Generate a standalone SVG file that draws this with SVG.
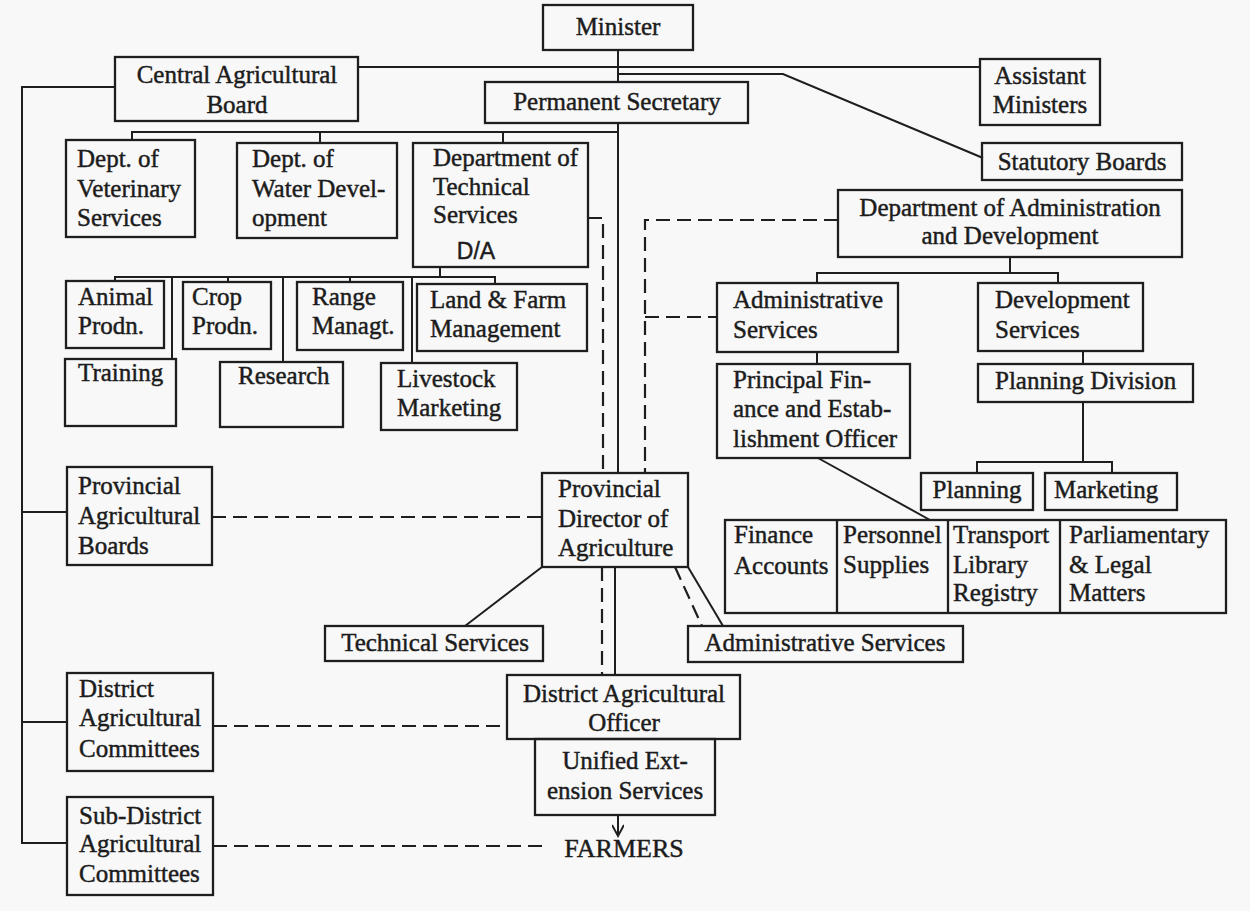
<svg xmlns="http://www.w3.org/2000/svg" width="1250" height="911" viewBox="0 0 1250 911">
<defs>
<style>
.bx{fill:none;stroke:#1e1e1e;stroke-width:2.3}
.ln{fill:none;stroke:#1e1e1e;stroke-width:2}
.ds{fill:none;stroke:#1e1e1e;stroke-width:2.2;stroke-dasharray:14 7}
text{font-family:"Liberation Serif","Times New Roman",serif;font-size:25px;fill:#1c1c1c;stroke:#1c1c1c;stroke-width:0.45}
.c{text-anchor:middle}
.sans{font-family:"Liberation Sans",Arial,sans-serif;font-size:23px}
.big{font-size:26px}
</style>
<marker id="arr" markerWidth="16" markerHeight="12" refX="12" refY="6" orient="auto" markerUnits="userSpaceOnUse">
<path d="M1,0 L12,6 L1,12" fill="none" stroke="#1e1e1e" stroke-width="2"/>
</marker>
</defs>
<rect x="0" y="0" width="1250" height="911" fill="#f8f8f8"/>

<g id="connectors">
<path class="ln" d="M618,50 V82"/>
<path class="ln" d="M358,67 H980"/>
<path class="ln" d="M618,74 H783 L983,158"/>
<path class="ln" d="M115,87 H22 V843 H67"/>
<path class="ln" d="M22,512 H67"/>
<path class="ln" d="M22,722 H67"/>
<path class="ln" d="M618,123 V473"/>
<path class="ln" d="M618,132 H132 V140"/>
<path class="ln" d="M320,132 V143"/>
<path class="ln" d="M503,132 V143"/>
<path class="ln" d="M440,267 V277"/>
<path class="ln" d="M115,281 V277 H495 V284"/>
<path class="ln" d="M172,277 V359"/>
<path class="ln" d="M228,277 V282"/>
<path class="ln" d="M283,277 V362"/>
<path class="ln" d="M350,277 V282"/>
<path class="ln" d="M412,277 V363"/>
<path class="ds" d="M588,218 H603 V473"/>
<path class="ds" d="M838,220 H645 V473"/>
<path class="ds" d="M645,317 H717"/>
<path class="ln" d="M1010,257 V273"/>
<path class="ln" d="M817,283 V273 H1058 V283"/>
<path class="ln" d="M817,352 V364"/>
<path class="ln" d="M1083,351 V364"/>
<path class="ln" d="M1083,402 V462"/>
<path class="ln" d="M977,473 V462 H1112 V473"/>
<path class="ln" d="M818,458 L930,520"/>
<path class="ds" d="M212,517 H542"/>
<path class="ln" d="M542,567 L465,626"/>
<path class="ln" d="M688,567 L723,626"/>
<path class="ds" d="M675,567 L702,626"/>
<path class="ds" d="M602,567 V675"/>
<path class="ln" d="M615,567 V675"/>
<path class="ds" d="M213,726 H507"/>
<path class="ds" d="M213,846 H547"/>
<path class="ln" d="M618,815 V836" marker-end="url(#arr)"/>
</g>

<g id="minister"><rect class="bx" x="543" y="5" width="150" height="45"/><text class="c" x="618" y="35">Minister</text></g>
<g id="central-agricultural-board"><rect class="bx" x="115" y="57" width="243" height="64"/><text class="c" x="237" y="83">Central Agricultural</text><text class="c" x="237" y="113">Board</text></g>
<g id="permanent-secretary"><rect class="bx" x="485" y="82" width="263" height="41"/><text class="c" x="617" y="110">Permanent Secretary</text></g>
<g id="assistant-ministers"><rect class="bx" x="980" y="59" width="120" height="66"/><text class="c" x="1040" y="84">Assistant</text><text class="c" x="1040" y="113">Ministers</text></g>
<g id="statutory-boards"><rect class="bx" x="982" y="143" width="200" height="37"/><text class="c" x="1082" y="170">Statutory Boards</text></g>
<g id="dept-admin-dev"><rect class="bx" x="838" y="190" width="344" height="67"/><text class="c" x="1010" y="216">Department of Administration</text><text class="c" x="1010" y="244">and Development</text></g>

<g id="dept-veterinary"><rect class="bx" x="66" y="140" width="129" height="97"/><text x="77" y="167">Dept. of</text><text x="77" y="197">Veterinary</text><text x="77" y="226">Services</text></g>
<g id="dept-water"><rect class="bx" x="237" y="143" width="160" height="95"/><text x="252" y="167">Dept. of</text><text x="252" y="197">Water Devel-</text><text x="252" y="226">opment</text></g>
<g id="dept-technical"><rect class="bx" x="413" y="143" width="175" height="124"/><text x="433" y="166">Department of</text><text x="433" y="195">Technical</text><text x="433" y="223">Services</text><text class="c sans" x="476" y="259">D/A</text></g>

<g id="animal-prodn"><rect class="bx" x="66" y="281" width="98" height="67"/><text x="78" y="305">Animal</text><text x="78" y="334">Prodn.</text></g>
<g id="crop-prodn"><rect class="bx" x="183" y="282" width="88" height="67"/><text x="192" y="305">Crop</text><text x="192" y="334">Prodn.</text></g>
<g id="range-managt"><rect class="bx" x="297" y="282" width="106" height="68"/><text x="312" y="305">Range</text><text x="312" y="334">Managt.</text></g>
<g id="land-farm"><rect class="bx" x="417" y="284" width="170" height="67"/><text x="430" y="308">Land &amp; Farm</text><text x="430" y="337">Management</text></g>
<g id="training"><rect class="bx" x="65" y="359" width="111" height="67"/><text x="78" y="381">Training</text></g>
<g id="research"><rect class="bx" x="220" y="362" width="123" height="65"/><text x="238" y="384">Research</text></g>
<g id="livestock-marketing"><rect class="bx" x="381" y="363" width="136" height="67"/><text x="397" y="387">Livestock</text><text x="397" y="416">Marketing</text></g>

<g id="administrative-services"><rect class="bx" x="717" y="283" width="181" height="69"/><text x="733" y="308">Administrative</text><text x="733" y="338">Services</text></g>
<g id="development-services"><rect class="bx" x="978" y="283" width="165" height="68"/><text x="995" y="308">Development</text><text x="995" y="338">Services</text></g>
<g id="principal-finance"><rect class="bx" x="717" y="364" width="193" height="94"/><text x="733" y="388">Principal Fin-</text><text x="733" y="417">ance and Estab-</text><text x="733" y="447">lishment Officer</text></g>
<g id="planning-division"><rect class="bx" x="978" y="364" width="215" height="38"/><text x="995" y="389">Planning Division</text></g>
<g id="planning"><rect class="bx" x="921" y="473" width="112" height="37"/><text class="c" x="977" y="498">Planning</text></g>
<g id="marketing"><rect class="bx" x="1045" y="473" width="132" height="37"/><text x="1054" y="498">Marketing</text></g>

<g id="finance-table">
<rect class="bx" x="725" y="520" width="501" height="93"/>
<path class="bx" d="M837,520 V613 M948,520 V613 M1060,520 V613"/>
<text x="734" y="543">Finance</text><text x="734" y="574">Accounts</text>
<text x="843" y="543">Personnel</text><text x="843" y="573">Supplies</text>
<text x="953" y="543">Transport</text><text x="953" y="573">Library</text><text x="953" y="601">Registry</text>
<text x="1069" y="543">Parliamentary</text><text x="1069" y="573">&amp; Legal</text><text x="1069" y="601">Matters</text>
</g>

<g id="provincial-boards"><rect class="bx" x="67" y="467" width="145" height="98"/><text x="78" y="494">Provincial</text><text x="78" y="524">Agricultural</text><text x="78" y="554">Boards</text></g>
<g id="provincial-director"><rect class="bx" x="542" y="473" width="146" height="94"/><text x="558" y="497">Provincial</text><text x="558" y="527">Director of</text><text x="558" y="556">Agriculture</text></g>
<g id="technical-services"><rect class="bx" x="325" y="626" width="218" height="35"/><text class="c" x="435" y="651">Technical Services</text></g>
<g id="administrative-services-2"><rect class="bx" x="688" y="626" width="275" height="36"/><text class="c" x="825" y="651">Administrative Services</text></g>

<g id="district-committees"><rect class="bx" x="67" y="673" width="146" height="98"/><text x="79" y="697">District</text><text x="79" y="726">Agricultural</text><text x="79" y="757">Committees</text></g>
<g id="subdistrict-committees"><rect class="bx" x="67" y="797" width="146" height="98"/><text x="79" y="824">Sub-District</text><text x="79" y="852">Agricultural</text><text x="79" y="882">Committees</text></g>
<g id="district-officer"><rect class="bx" x="507" y="675" width="233" height="64"/><text class="c" x="624" y="702">District Agricultural</text><text class="c" x="624" y="731">Officer</text></g>
<g id="unified-extension"><rect class="bx" x="535" y="739" width="180" height="76"/><text class="c" x="625" y="769">Unified Ext-</text><text class="c" x="625" y="799">ension Services</text></g>
<g id="farmers"><text class="c big" x="624" y="857">FARMERS</text></g>
</svg>
